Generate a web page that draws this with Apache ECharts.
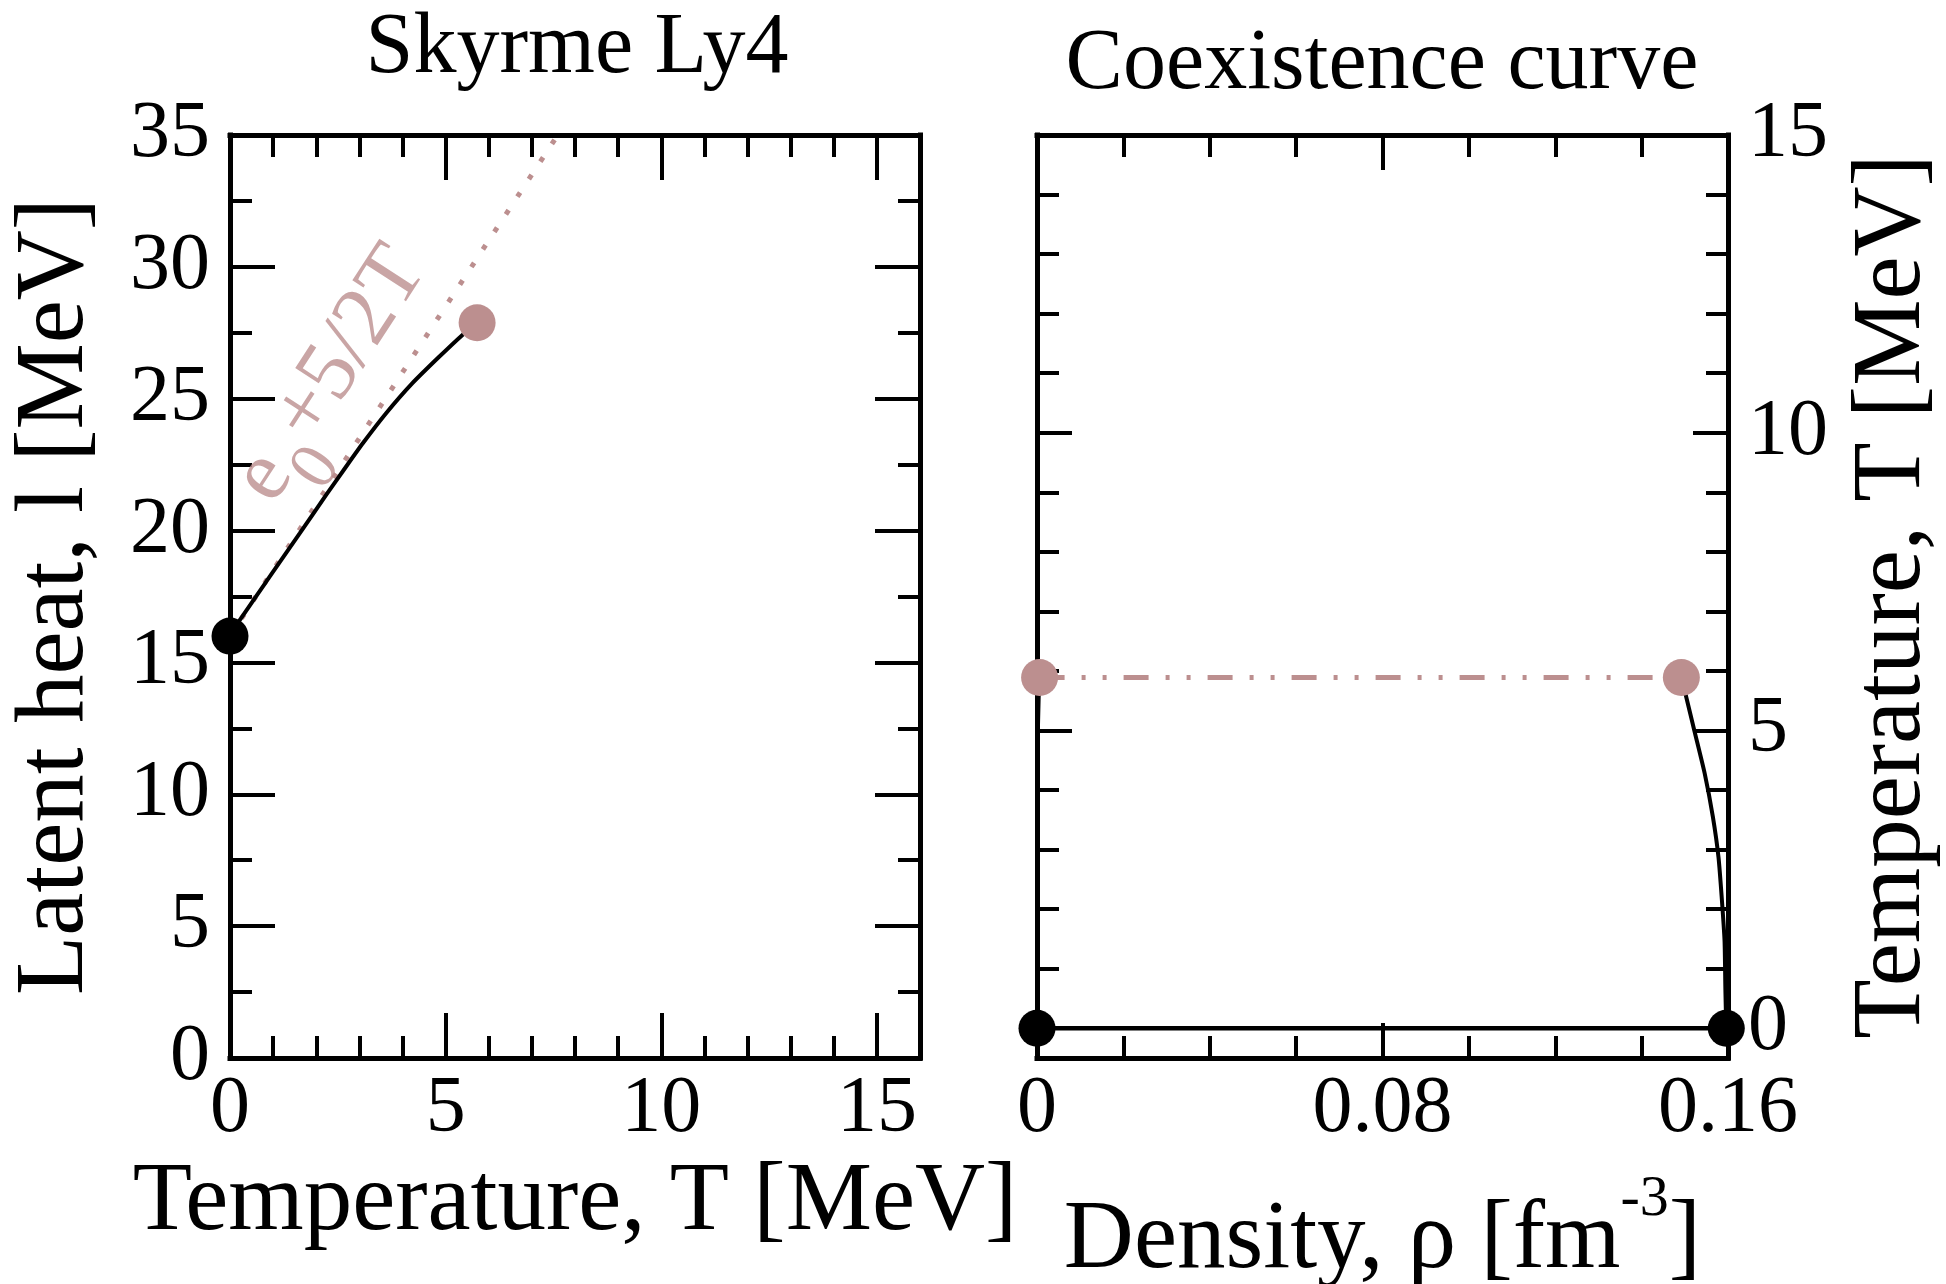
<!DOCTYPE html>
<html>
<head>
<meta charset="utf-8">
<script src="https://cdn.jsdelivr.net/npm/echarts@6/dist/echarts.min.js"></script>
<style>
html, body {margin:0; padding:0; background:#fff;}
#main {width:1946px; height:1284px;}
</style>
</head>
<body>
<div id="main"></div>
<script>
// left panel: latent heat l(T) for Skyrme Ly4
const latentT    = [0, 0.23, 0.92, 1.62, 2.23, 2.69, 3.08, 3.62, 4.23, 4.85, 5.39, 5.73];
const latentHeat = [16.0, 16.61, 18.25, 19.90, 21.35, 22.42, 23.31, 24.45, 25.59, 26.59, 27.42, 27.88];
// e0 + 5/2 T guide line (clipped at the top)
const guideT = [0, 7.6];
const guideL = [16, 35];
const groundPoint = [0, 16];
const criticalPoint = [5.73, 27.88];
const guideLabelAt = [2.64, 25.6];

// right panel: coexistence curve T(rho)
const liquidRho = [0.1596, 0.1594, 0.1592, 0.1586, 0.1578, 0.1565, 0.1546, 0.1522, 0.1503, 0.1492];
const liquidT   = [0, 0.63, 1.47, 2.14, 2.87, 3.55, 4.28, 5.00, 5.57, 5.89];
const gasRho = [0, 0, 0.00002, 0.00008, 0.0002, 0.0004, 0.0006];
const gasT   = [0, 1.5, 3, 4, 5, 5.6, 5.89];
const zeroRho = [0, 0.1596];
const zeroT   = [0, 0];
const endRho = [0.0006, 0.1492];
const endT   = [5.89, 5.89];

// tick positions
const leftXMajor = [0, 5, 10, 15];
const leftXMinor = [0, 1, 2, 3, 4, 5, 6, 7, 8, 9, 10, 11, 12, 13, 14, 15, 16];
const leftYMajor = [0, 5, 10, 15, 20, 25, 30, 35];
const leftYMinor = [0, 2.5, 5, 7.5, 10, 12.5, 15, 17.5, 20, 22.5, 25, 27.5, 30, 32.5, 35];
const rightXMajor = [0, 0.08, 0.16];
const rightXMinor = [0, 0.02, 0.04, 0.06, 0.08, 0.1, 0.12, 0.14, 0.16];
const rightYMajor = [0, 5, 10, 15];
const rightYMinor = [0, 1, 2, 3, 4, 5, 6, 7, 8, 9, 10, 11, 12, 13, 14, 15];

const FONT = 'Liberation Serif';
const ROSY = '#bc8f8f';

function zip(a, b) {
    return a.map((v, i) => [v, b[i]]);
}

function axis(grid, pos, min, max, ticks, len, line, labels, extra) {
    const a = {
        type: 'value', gridIndex: grid, position: pos, min: min, max: max,
        axisLine: {show: line, onZero: false, lineStyle: {color: '#000', width: 5, cap: 'square'}},
        axisTick: {show: true, inside: true, length: len, customValues: ticks, lineStyle: {color: '#000', width: 4}},
        axisLabel: {show: false},
        splitLine: {show: false}
    };
    if (labels) {
        a.axisLabel = {show: true, customValues: labels, fontFamily: FONT, fontSize: 80, color: '#000', margin: pos === 'bottom' ? 12 : 20};
    }
    return Object.assign(a, extra || {});
}

const nameStyle = {fontFamily: FONT, fontSize: 97, color: '#000'};

const xAxes = [
    axis(0, 'bottom', 0, 16, leftXMajor, 45, true, leftXMajor,
        {name: 'Temperature, T [MeV]', nameLocation: 'middle', nameGap: 87, nameTextStyle: nameStyle}),
    axis(0, 'bottom', 0, 16, leftXMinor, 22, false),
    axis(0, 'top', 0, 16, leftXMajor, 45, true),
    axis(0, 'top', 0, 16, leftXMinor, 22, false),
    axis(1, 'bottom', 0, 0.16, rightXMajor, 35, true, rightXMajor,
        {name: '{a|Density, ρ [fm}{s|-3}{a|]}', nameLocation: 'middle', nameGap: 113,
         nameTextStyle: {fontFamily: FONT, color: '#000', rich: {
             a: {fontFamily: FONT, fontSize: 97, lineHeight: 97, verticalAlign: 'bottom', color: '#000'},
             s: {fontFamily: FONT, fontSize: 58, lineHeight: 119, verticalAlign: 'top', color: '#000'}
         }}}),
    axis(1, 'bottom', 0, 0.16, rightXMinor, 22, false),
    axis(1, 'top', 0, 0.16, rightXMajor, 35, true),
    axis(1, 'top', 0, 0.16, rightXMinor, 22, false)
];

const yAxes = [
    axis(0, 'left', 0, 35, leftYMajor, 45, true, leftYMajor,
        {name: 'Latent heat, l [MeV]', nameLocation: 'middle', nameRotate: 90, nameGap: 125, nameTextStyle: nameStyle}),
    axis(0, 'left', 0, 35, leftYMinor, 22, false),
    axis(0, 'right', 0, 35, leftYMajor, 45, true),
    axis(0, 'right', 0, 35, leftYMinor, 22, false),
    axis(1, 'left', -0.5, 15, rightYMajor, 35, true),
    axis(1, 'left', -0.5, 15, rightYMinor, 22, false),
    axis(1, 'right', -0.5, 15, rightYMajor, 35, true, rightYMajor,
        {name: 'Temperature, T [MeV]', nameLocation: 'middle', nameRotate: 90, nameGap: 117, nameTextStyle: nameStyle}),
    axis(1, 'right', -0.5, 15, rightYMinor, 22, false)
];

const chart = echarts.init(document.getElementById('main'));
chart.setOption({
    backgroundColor: '#fff',
    animation: false,
    title: [
        {text: 'Skyrme Ly4', left: 577, top: 6, textAlign: 'center', padding: 0,
         textStyle: {fontFamily: FONT, fontSize: 86, fontWeight: 'normal', color: '#000'}},
        {text: 'Coexistence curve', left: 1382, top: 22, textAlign: 'center', padding: 0,
         textStyle: {fontFamily: FONT, fontSize: 86, fontWeight: 'normal', color: '#000'}}
    ],
    grid: [
        {left: 230, top: 135, width: 690, height: 923, containLabel: false, outerBoundsMode: 'none'},
        {left: 1037, top: 135, width: 691, height: 923, containLabel: false, outerBoundsMode: 'none'}
    ],
    xAxis: xAxes,
    yAxis: yAxes,
    series: [
        {
            type: 'line', xAxisIndex: 0, yAxisIndex: 0, data: zip(guideT, guideL),
            showSymbol: false, z: 2,
            lineStyle: {color: ROSY, width: 5, type: [5, 16]}
        },
        {
            type: 'line', xAxisIndex: 0, yAxisIndex: 0, data: zip(latentT, latentHeat),
            showSymbol: false, smooth: 0.2, z: 3,
            lineStyle: {color: '#000', width: 4}
        },
        {
            type: 'scatter', xAxisIndex: 0, yAxisIndex: 0, data: [groundPoint],
            symbolSize: 37, clip: false, z: 4, itemStyle: {color: '#000', opacity: 1}
        },
        {
            type: 'scatter', xAxisIndex: 0, yAxisIndex: 0, data: [criticalPoint],
            symbolSize: 37, clip: false, z: 4, itemStyle: {color: ROSY, opacity: 1}
        },
        {
            // rotated annotation of the guide line
            type: 'scatter', xAxisIndex: 0, yAxisIndex: 0, data: [guideLabelAt],
            symbolSize: 1, silent: true, itemStyle: {color: 'rgba(0,0,0,0)'},
            label: {
                show: true, position: 'inside', rotate: 57,
                formatter: '{e|e}{s|0}{e|+5/2T}',
                rich: {
                    e: {fontFamily: FONT, fontSize: 86, lineHeight: 86, verticalAlign: 'top', color: ROSY},
                    s: {fontFamily: FONT, fontSize: 68, lineHeight: 116, verticalAlign: 'bottom', color: ROSY}
                }
            }
        },
        {
            type: 'line', xAxisIndex: 4, yAxisIndex: 6, data: zip(zeroRho, zeroT),
            showSymbol: false, z: 3, lineStyle: {color: '#000', width: 4.5}
        },
        {
            type: 'line', xAxisIndex: 4, yAxisIndex: 6, data: zip(gasRho, gasT),
            showSymbol: false, z: 3, lineStyle: {color: '#000', width: 4}
        },
        {
            type: 'line', xAxisIndex: 4, yAxisIndex: 6, data: zip(liquidRho, liquidT),
            showSymbol: false, smooth: 0.2, z: 3, lineStyle: {color: '#000', width: 4}
        },
        {
            type: 'line', xAxisIndex: 4, yAxisIndex: 6, data: zip(endRho, endT),
            showSymbol: false, z: 2,
            lineStyle: {color: ROSY, width: 5, type: [25, 17, 4, 17, 4, 17]}
        },
        {
            type: 'scatter', xAxisIndex: 4, yAxisIndex: 6, data: zip(endRho, endT),
            symbolSize: 37, clip: false, z: 4, itemStyle: {color: ROSY, opacity: 1}
        },
        {
            type: 'scatter', xAxisIndex: 4, yAxisIndex: 6, data: zip(zeroRho, zeroT),
            symbolSize: 37, clip: false, z: 4, itemStyle: {color: '#000', opacity: 1}
        }
    ]
});
</script>
</body>
</html>
